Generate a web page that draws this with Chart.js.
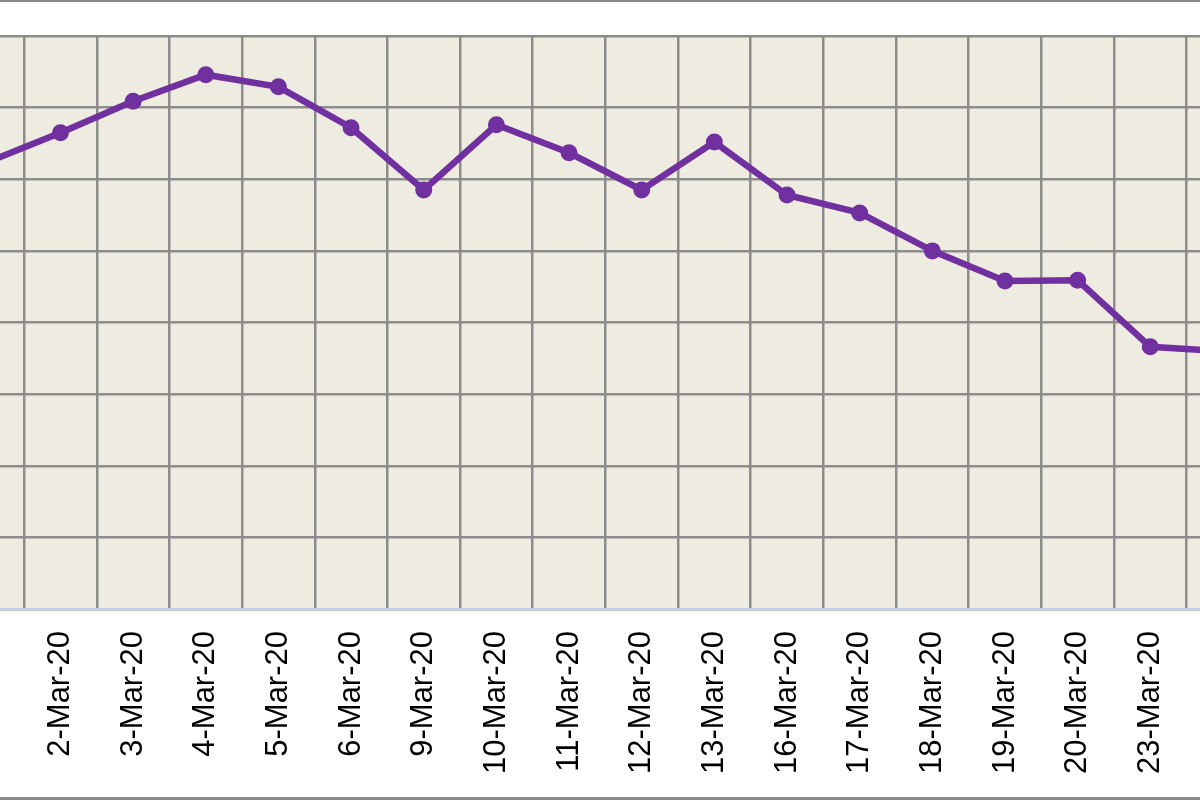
<!DOCTYPE html>
<html>
<head>
<meta charset="utf-8">
<script src="https://cdn.jsdelivr.net/npm/chart.js@4"></script>
<style>
  html, body { margin: 0; padding: 0; background: #fff; overflow: hidden; }
  #frame { position: absolute; left: 0; top: 0; width: 1200px; height: 800px; box-sizing: border-box;
           border-top: 2px solid #8a8a8a; border-bottom: 3px solid #8a8a8a; overflow: hidden; }
  #holder { position: absolute; top: 0; left: 0; width: 1400px; height: 795px; }
</style>
</head>
<body>
<div id="frame"><div id="holder"><canvas id="myChart"></canvas></div></div>
<script>
// data (y axis is cut off, so values are in grid units 0..8)
var dates = ['28-Feb-20', '2-Mar-20', '3-Mar-20', '4-Mar-20', '5-Mar-20', '6-Mar-20', '9-Mar-20',
  '10-Mar-20', '11-Mar-20', '12-Mar-20', '13-Mar-20', '16-Mar-20', '17-Mar-20', '18-Mar-20',
  '19-Mar-20', '20-Mar-20', '23-Mar-20', '24-Mar-20'];
var values = [6.24, 6.65, 7.09, 7.46, 7.29, 6.72, 5.85, 6.76, 6.37, 5.85, 6.52, 5.78, 5.53, 5.00,
  4.58, 4.59, 3.66, 3.60];
var yMin = 0;
var yMax = 8;
var yStep = 1;

// beige plot background
var plotBg = {
  id: 'plotBg',
  beforeDraw: function (chart) {
    var a = chart.chartArea, c = chart.ctx;
    c.save();
    c.fillStyle = '#eeece1';
    c.fillRect(a.left, a.top, a.right - a.left, a.bottom - a.top);
    c.restore();
  }
};

var ctx = document.getElementById('myChart').getContext('2d');
var chart = new Chart(ctx, {
  type: 'line',
  data: {
    labels: dates,
    datasets: [{
      label: 'Series',
      data: values,
      borderColor: '#7030a0',
      backgroundColor: '#7030a0',
      borderWidth: 6.5,
      pointRadius: 7.5,
      pointBorderWidth: 2,
      pointBorderColor: '#7030a0',
      pointBackgroundColor: '#7030a0',
      tension: 0
    }]
  },
  options: {
    responsive: true,
    maintainAspectRatio: false,
    animation: false,
    layout: { padding: { top: 34, left: 0, right: 0, bottom: 0 } },
    plugins: { legend: { display: false }, tooltip: { enabled: false } },
    scales: {
      x: {
        offset: true,
        grid: { color: '#8c8c8c', lineWidth: 2.5, drawTicks: false, offset: true },
        border: { color: '#c2d4ef', width: 2 },
        ticks: {
          minRotation: 90, maxRotation: 90, autoSkip: false, padding: 22,
          font: { family: 'Liberation Sans', size: 31 },
          color: function (c) { return c.index === 0 ? '#4cc9ef' : '#000'; }
        },
        afterFit: function (scale) { scale.height = 188; }
      },
      y: {
        min: yMin, max: yMax,
        ticks: { stepSize: yStep, display: false },
        grid: { color: '#8c8c8c', lineWidth: 2.5, drawTicks: false },
        border: { display: false }
      }
    }
  },
  plugins: [plotBg]
});

// the picture is a crop of a wider chart: size the holder so each category is ~72.75px
var holder = document.getElementById('holder');
var a = chart.chartArea;
holder.style.width = (holder.offsetWidth + 72.75 * dates.length - (a.right - a.left)) + 'px';
chart.resize();
a = chart.chartArea;
holder.style.left = (-48.75 - a.left) + 'px';
</script>
</body>
</html>
